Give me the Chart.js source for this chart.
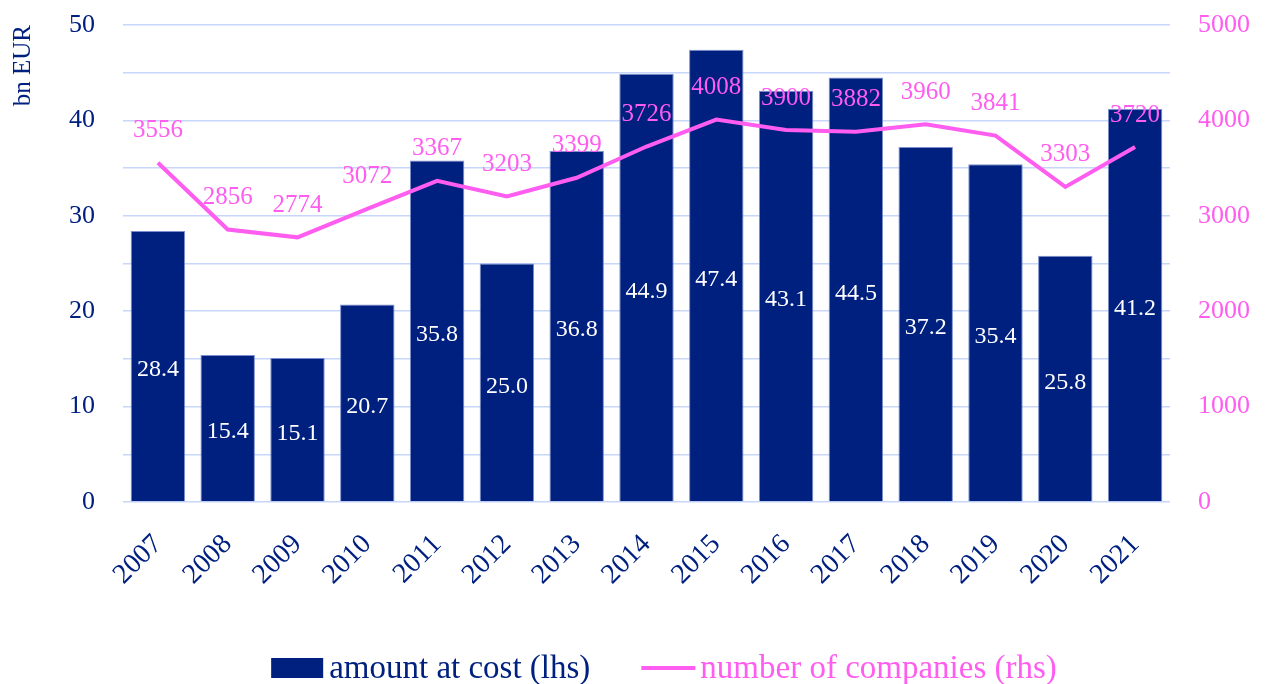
<!DOCTYPE html>
<html>
<head>
<meta charset="utf-8">
<title>amount at cost / number of companies</title>
<script src="https://cdn.jsdelivr.net/npm/chart.js@4/dist/chart.umd.min.js"></script>
<style>
  html, body { margin: 0; padding: 0; background: #ffffff; }
  #box { width: 1266px; height: 684px; position: relative; }
</style>
</head>
<body>
<div id="box"><canvas id="myChart"></canvas></div>
<script>
// values
var years = ['2007', '2008', '2009', '2010', '2011', '2012', '2013', '2014', '2015', '2016', '2017', '2018', '2019', '2020', '2021'];
var amountAtCost = [28.4, 15.4, 15.1, 20.7, 35.8, 25.0, 36.8, 44.9, 47.4, 43.1, 44.5, 37.2, 35.4, 25.8, 41.2];
var numberOfCompanies = [3556, 2856, 2774, 3072, 3367, 3203, 3399, 3726, 4008, 3900, 3882, 3960, 3841, 3303, 3720];
var leftTicks = [0, 10, 20, 30, 40, 50];
var rightTicks = [0, 1000, 2000, 3000, 4000, 5000];

var NAVY = '#002080';
var PINK = '#ff5cf0';
var GRID = '#c8d6fa';
var FONT = '"Liberation Serif", "Times New Roman", serif';

// value labels on bars (white, centred) and above the line (pink)
var valueLabels = {
    id: 'valueLabels',
    afterDatasetsDraw: function (chart) {
        var ctx = chart.ctx;
        ctx.save();
        ctx.textAlign = 'center';
        ctx.textBaseline = 'middle';

        var bars = chart.getDatasetMeta(0).data;
        ctx.font = '24px ' + FONT;
        ctx.fillStyle = '#ffffff';
        bars.forEach(function (bar, i) {
            ctx.fillText(amountAtCost[i].toFixed(1), bar.x, (bar.y + bar.base) / 2 + 4);
        });

        var points = chart.getDatasetMeta(1).data;
        ctx.font = '25px ' + FONT;
        ctx.fillStyle = PINK;
        points.forEach(function (pt, i) {
            ctx.fillText(String(numberOfCompanies[i]), pt.x, pt.y - 32);
        });
        ctx.restore();
    }
};

// legend along the bottom, text coloured like its series
var bottomLegend = {
    id: 'bottomLegend',
    afterDraw: function (chart) {
        var ctx = chart.ctx;
        ctx.save();
        ctx.font = '33px ' + FONT;
        ctx.textBaseline = 'middle';
        var t1 = chart.data.datasets[0].label;
        var t2 = chart.data.datasets[1].label;
        var w1 = ctx.measureText(t1).width;
        var w2 = ctx.measureText(t2).width;
        var total = 52 + 6 + w1 + 51 + 54 + 5 + w2;
        var x = 664 - total / 2;
        var y = 668;

        ctx.fillStyle = NAVY;
        ctx.fillRect(x, y - 10, 52, 20);
        x += 58;
        ctx.fillText(t1, x, y + 1);
        x += w1 + 51;

        ctx.strokeStyle = PINK;
        ctx.lineWidth = 4;
        ctx.beginPath();
        ctx.moveTo(x, y);
        ctx.lineTo(x + 54, y);
        ctx.stroke();
        x += 59;
        ctx.fillStyle = PINK;
        ctx.fillText(t2, x, y + 1);
        ctx.restore();
    }
};

var ctx = document.getElementById('myChart').getContext('2d');
var chart = new Chart(ctx, {
    type: 'bar',
    data: {
        labels: years,
        datasets: [{
            type: 'bar',
            label: 'amount at cost (lhs)',
            data: amountAtCost,
            yAxisID: 'y',
            backgroundColor: NAVY,
            borderColor: 'rgba(110,130,200,0.9)',
            borderWidth: 1,
            barPercentage: 0.78,
            categoryPercentage: 1.0,
            order: 1
        }, {
            type: 'line',
            label: 'number of companies (rhs)',
            data: numberOfCompanies,
            yAxisID: 'y1',
            borderColor: PINK,
            backgroundColor: PINK,
            borderWidth: 4,
            pointRadius: 0,
            tension: 0,
            order: 0
        }]
    },
    options: {
        responsive: true,
        maintainAspectRatio: false,
        animation: false,
        layout: {
            padding: { top: 25, left: 0, right: 0, bottom: 80 }
        },
        plugins: {
            legend: { display: false },
            tooltip: { enabled: false }
        },
        scales: {
            x: {
                grid: { display: false, drawTicks: false },
                border: { display: false },
                ticks: {
                    color: NAVY,
                    font: { family: FONT, size: 28 },
                    minRotation: 45,
                    maxRotation: 45,
                    padding: 26
                },
                afterFit: function (scale) { scale.height = 102; }
            },
            y: {
                position: 'left',
                min: 0,
                max: 50,
                border: { display: false },
                // invisible tick marks keep the labels off the plot edge
                grid: { color: GRID, lineWidth: 1.5, drawTicks: true, tickLength: 25, tickColor: 'rgba(0,0,0,0)' },
                ticks: {
                    stepSize: 5,
                    color: NAVY,
                    font: { family: FONT, size: 26 },
                    padding: 3,
                    callback: function (v) { return leftTicks.indexOf(v) >= 0 ? v : ''; }
                },
                title: {
                    display: true,
                    text: 'bn EUR',
                    align: 'end',
                    color: NAVY,
                    font: { family: FONT, size: 25 },
                    padding: { top: 8, bottom: 4 }
                },
                afterFit: function (scale) { scale.width = 123; }
            },
            y1: {
                position: 'right',
                min: 0,
                max: 5000,
                border: { display: false },
                grid: { drawOnChartArea: false, drawTicks: true, tickLength: 25, tickColor: 'rgba(0,0,0,0)' },
                ticks: {
                    stepSize: 1000,
                    color: PINK,
                    font: { family: FONT, size: 26 },
                    padding: 3,
                    callback: function (v) { return rightTicks.indexOf(v) >= 0 ? v : ''; }
                },
                afterFit: function (scale) { scale.width = 96; }
            }
        }
    },
    plugins: [valueLabels, bottomLegend]
});
</script>
</body>
</html>
